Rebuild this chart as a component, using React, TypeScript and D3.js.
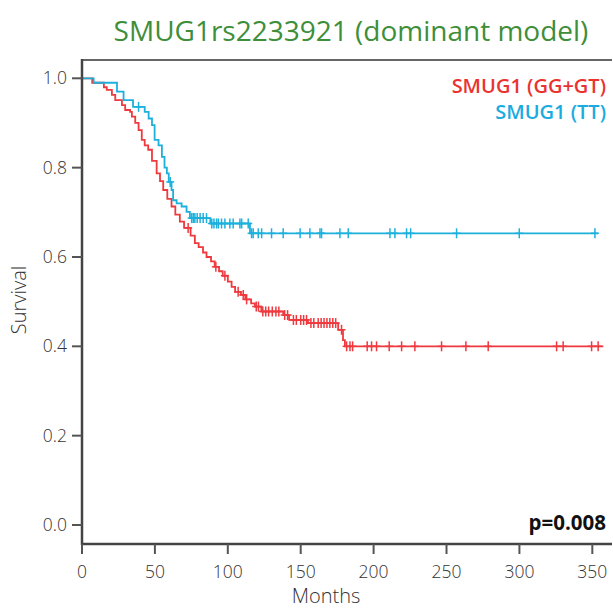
import React from "react";
import * as d3 from "d3";

const title = "SMUG1rs2233921 (dominant model)";
const seriesNames = ["SMUG1 (GG+GT)", "SMUG1 (TT)"];
const xTicks = [0, 50, 100, 150, 200, 250, 300, 350];
const yTicks = [0, 0.2, 0.4, 0.6, 0.8, 1.0];
const pValue = "p=0.008";

// SMUG1 (GG+GT) – red
const redEventTimes = [7, 15, 17, 20.5, 22.8, 27.4, 29.6, 33, 34.2, 36.5, 38.8, 41, 43, 45.4, 48, 51.2, 53.5, 55.7, 58.5, 61.4, 64, 67.1, 70, 74.5, 77.4, 80, 83, 85.4, 88.5, 91, 94, 96.5, 100, 102.6, 105, 109, 112, 116, 118.6, 123, 138, 142, 155, 175.7, 179, 180.3];
const redEventSurv = [0.99, 0.98, 0.974, 0.963, 0.951, 0.94, 0.929, 0.925, 0.914, 0.9, 0.884, 0.862, 0.85, 0.84, 0.815, 0.787, 0.77, 0.75, 0.73, 0.713, 0.695, 0.679, 0.665, 0.648, 0.631, 0.622, 0.61, 0.6, 0.59, 0.578, 0.568, 0.558, 0.545, 0.533, 0.522, 0.515, 0.505, 0.496, 0.489, 0.478, 0.47, 0.459, 0.452, 0.437, 0.414, 0.4];
const redCensor = [72.8, 91.8, 98, 107.1, 110.6, 112.9, 119.5, 121, 124, 126, 128, 130.5, 133, 135, 139, 141, 145, 147, 150, 152, 154, 157, 159, 162, 164, 166, 168, 170, 172, 174, 178, 181.5, 183.8, 185.6, 195.6, 198.6, 202, 210.7, 219.2, 228.3, 246.6, 263.3, 278.6, 325.5, 330, 349.5, 354];
const redEnd = 357.5;

// SMUG1 (TT) – blue
const blueEventTimes = [8, 24, 28.5, 35, 43, 45.7, 48, 49.8, 52.5, 54.8, 56.6, 58.2, 59.5, 61.4, 62.5, 64.9, 68.3, 71.7, 74, 88, 115.2];
const blueEventSurv = [0.99, 0.97, 0.951, 0.936, 0.925, 0.91, 0.895, 0.862, 0.85, 0.824, 0.8, 0.787, 0.768, 0.75, 0.727, 0.72, 0.713, 0.701, 0.687, 0.675, 0.653];
const blueCensor = [38.8, 60.5, 75.2, 76.3, 77.4, 79, 81, 83.1, 85.4, 89, 90.5, 92.3, 93.5, 95.7, 98, 101.4, 103.7, 108.3, 109.5, 114, 116.3, 117.4, 120.9, 123.2, 130, 138, 149.6, 156.3, 163.2, 164.3, 176.9, 182.6, 211.2, 214.6, 222.6, 225.4, 256.9, 299.9, 351.8];
const blueEnd = 353.8;

const W = 613, H = 610;
const L = 82, R = 612, T = 60, B = 544;
const FONT = "'Open Sans', 'Noto Sans', sans-serif";

function survAt(times: number[], surv: number[], t: number) {
  let s = 1;
  for (let i = 0; i < times.length; i++) if (times[i] <= t) s = surv[i];
  return s;
}

export default function App() {
  const x = d3.scaleLinear().domain([0, 363.5]).range([L, R]);
  const y = d3.scaleLinear().domain([0, 1]).range([525, 78.3]);
  const line = d3
    .line<[number, number]>()
    .x((d) => x(d[0]))
    .y((d) => y(d[1]))
    .curve(d3.curveStepAfter);

  const series = [
    { times: redEventTimes, surv: redEventSurv, censor: redCensor, end: redEnd, color: "#ee3a3f" },
    { times: blueEventTimes, surv: blueEventSurv, censor: blueCensor, end: blueEnd, color: "#1cb0dc" },
  ];

  return (
    <svg width={W} height={H} style={{ position: "absolute", left: 0, top: 0, background: "#fff" }}>
      <text x={351} y={41} textAnchor="middle" fontFamily={FONT} fontSize={28} fill="#3e8e3a">
        {title}
      </text>
      {series.map((s, k) => {
        const pts: [number, number][] = [[0, 1]];
        s.times.forEach((t, i) => pts.push([t, s.surv[i]]));
        pts.push([s.end, s.surv[s.surv.length - 1]]);
        return (
          <g key={k}>
            <path d={line(pts) || ""} fill="none" stroke={s.color} strokeWidth={1.8} />
            {s.censor.map((c, i) => {
              const cx = x(c), cy = y(survAt(s.times, s.surv, c));
              return (
                <g key={i} stroke={s.color} strokeWidth={1.5}>
                  <line x1={cx} x2={cx} y1={cy - 5} y2={cy + 5} />
                  <line x1={cx - 4} x2={cx + 4} y1={cy} y2={cy} />
                </g>
              );
            })}
          </g>
        );
      })}
      {/* frame */}
      <line x1={L} x2={R} y1={T} y2={T} stroke="#666" strokeWidth={2} />
      <line x1={L} x2={L} y1={T - 1} y2={B + 1} stroke="#444" strokeWidth={2.5} />
      <line x1={L - 1} x2={R} y1={B} y2={B} stroke="#444" strokeWidth={2.5} />
      {yTicks.map((t) => (
        <g key={t}>
          <line x1={L - 10} x2={L} y1={y(t)} y2={y(t)} stroke="#555" strokeWidth={2} />
          <text x={L - 15} y={y(t)} dy="0.35em" textAnchor="end" fontFamily={FONT} fontWeight={300} fontSize={17.5} fill="#333">
            {t.toFixed(1)}
          </text>
        </g>
      ))}
      {xTicks.map((t) => (
        <g key={t}>
          <line x1={x(t)} x2={x(t)} y1={B} y2={B + 10} stroke="#555" strokeWidth={2} />
          <text x={x(t)} y={578} textAnchor="middle" fontFamily={FONT} fontWeight={300} fontSize={17.5} fill="#333">
            {t}
          </text>
        </g>
      ))}
      <text x={326} y={603} textAnchor="middle" fontFamily={FONT} fontWeight={300} fontSize={20} fill="#333">
        Months
      </text>
      <text transform="translate(26,300) rotate(-90)" textAnchor="middle" fontFamily={FONT} fontWeight={300} fontSize={20} fill="#333">
        Survival
      </text>
      <text x={606} y={93} textAnchor="end" fontFamily={FONT} fontWeight={600} fontSize={20} fill="#ea3330">
        {seriesNames[0]}
      </text>
      <text x={606} y={119} textAnchor="end" fontFamily={FONT} fontWeight={600} fontSize={20} fill="#1aabdf">
        {seriesNames[1]}
      </text>
      <text x={606} y={530} textAnchor="end" fontFamily={FONT} fontWeight={700} fontSize={20.5} fill="#111">
        {pValue}
      </text>
    </svg>
  );
}
